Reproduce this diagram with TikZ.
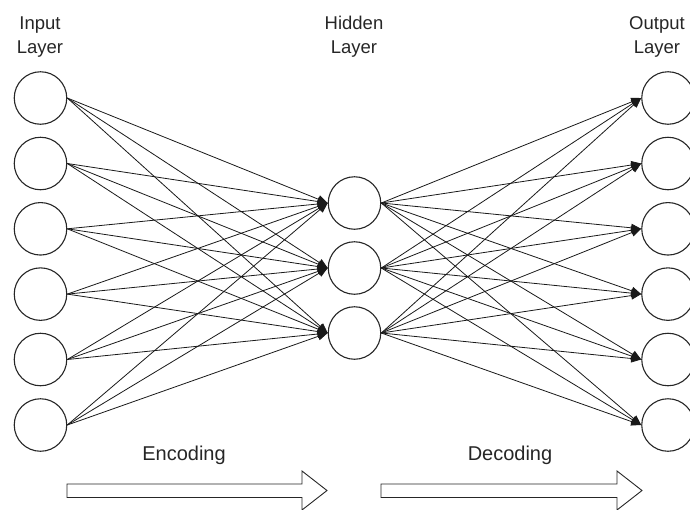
\documentclass[tikz,border=0pt]{standalone}
\usepackage{fontspec}
\setmainfont{Liberation Sans}
\usetikzlibrary{arrows.meta}
\begin{document}
\begin{tikzpicture}[x=1pt,y=-1pt,
  neuron/.style={circle,draw=black!85,line width=1.1pt,minimum size=52.5pt,inner sep=0pt,fill=white},
  conn/.style={draw=black!90,line width=0.8pt,-{Triangle[length=10pt,width=8pt]}},
  lbl/.style={align=center,inner sep=0pt,font=\fontsize{18.5}{24}\selectfont,text=black!85},
  dir/.style={inner sep=0pt,font=\fontsize{20}{24}\selectfont,text=black!85},
  blockarrow/.style={draw=black!85,line width=0.9pt,fill=white,line join=miter}
]
\useasboundingbox (0,0) rectangle (690,509);

% labels
\node[lbl] (linput) at (40,37) {Input\\Layer};
\node[lbl] (lhidden) at (354,37) {Hidden\\Layer};
\node[lbl] (loutput) at (657,37) {Output\\Layer};

\foreach \i/\y in {1/98,2/163.5,3/228.8,4/294.1,5/359.5,6/425} {
  \coordinate (ic\i) at (40.5,\y);
  \coordinate (oc\i) at (668,\y);
}
\foreach \j/\y in {1/203,2/268,3/333} {
  \coordinate (hc\j) at (354.5,\y);
}

\foreach \i in {1,...,6} {
  \node[neuron] (in\i) at (ic\i) {};
  \node[neuron] (out\i) at (oc\i) {};
}
\foreach \j in {1,2,3} {
  \node[neuron] (hid\j) at (hc\j) {};
}

\foreach \i in {1,...,6} {
  \foreach \j in {1,2,3} {
    \draw[conn] (in\i.east) -- (hid\j.west);
    \draw[conn] (hid\j.east) -- (out\i.west);
  }
}

% direction arrows
\draw[blockarrow] (67,484) -- (302,484) -- (302,471) -- (327,490.5) -- (302,510) -- (302,497.5) -- (67,497.5) -- cycle;
\draw[blockarrow] (381,484) -- (617,484) -- (617,471) -- (642,490.5) -- (617,510) -- (617,497.5) -- (381,497.5) -- cycle;

\node[dir] (enc) at (184,455) {Encoding};
\node[dir] (dec) at (510,455) {Decoding};
\end{tikzpicture}
\end{document}
